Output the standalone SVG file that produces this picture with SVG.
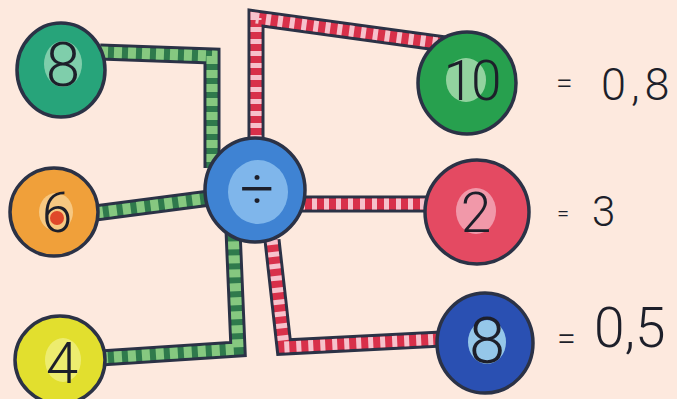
<svg xmlns="http://www.w3.org/2000/svg" width="677" height="399" viewBox="0 0 677 399">
<style>
.out{fill:none;stroke:#2b3246;stroke-width:17;stroke-linejoin:miter;stroke-linecap:butt}
.gb{fill:none;stroke:#2f7a4c;stroke-width:11}
.gd{fill:none;stroke:#86c880;stroke-width:11;stroke-dasharray:8 6}
.rb{fill:none;stroke:#d8304a;stroke-width:11}
.rd{fill:none;stroke:#f6c2cc;stroke-width:11;stroke-dasharray:5 7}
.rim{stroke:#2b3246;stroke-width:3.5}
.hl{opacity:0.85}
.num{font-family:Roboto,"Liberation Sans",sans-serif;font-weight:300;fill:#1d1f2a;text-anchor:middle}
.res{font-family:Roboto,"Liberation Sans",sans-serif;font-weight:300;fill:#1d1f2a}
</style>
<rect width="677" height="399" fill="#fde9de"/>
<g id="connectors">
  <path class="out" d="M100,52 L212,56 L212,168"/>
  <path class="gb" d="M100,52 L212,56 L212,168"/>
  <path class="gd" d="M100,52 L212,56 L212,168"/>
  <path class="out" d="M95,213 L210,198"/>
  <path class="gb" d="M95,213 L210,198"/>
  <path class="gd" d="M95,213 L210,198"/>
  <path class="out" d="M100,358 L238,349 L233,230"/>
  <path class="gb" d="M100,358 L238,349 L233,230"/>
  <path class="gd" d="M100,358 L238,349 L233,230"/>
  <path class="out" d="M256,140 L256,18 L445,44"/>
  <path class="rb" d="M256,140 L256,18 L445,44"/>
  <path class="rd" d="M256,140 L256,18 L445,44"/>
  <path class="out" d="M300,204 L432,204"/>
  <path class="rb" d="M300,204 L432,204"/>
  <path class="rd" d="M300,204 L432,204"/>
  <path class="out" d="M272,240 L284,347 L442,339"/>
  <path class="rb" d="M272,240 L284,347 L442,339"/>
  <path class="rd" d="M272,240 L284,347 L442,339"/>
</g>
<g id="n-8-green">
  <ellipse class="rim" cx="61" cy="70" rx="44" ry="47" fill="#27a47a"/>
  <ellipse class="hl" cx="63" cy="64" rx="19" ry="23" fill="#8fd6b4"/>
  <text class="num" x="63" y="86" font-size="62">8</text>
</g>
<g id="n-6">
  <ellipse class="rim" cx="54" cy="212" rx="44" ry="44" fill="#f0a03a"/>
  <ellipse class="hl" cx="56" cy="212" rx="17" ry="19" fill="#f8cf8e"/>
  <circle cx="57" cy="218" r="7" fill="#e0482a"/>
  <text class="num" x="57" y="232" font-size="55">6</text>
</g>
<g id="n-4">
  <ellipse class="rim" cx="60" cy="360" rx="45" ry="44" fill="#e2df2e"/>
  <ellipse class="hl" cx="63" cy="360" rx="18" ry="22" fill="#eeee7a"/>
  <text class="num" x="62" y="383" font-size="58">4</text>
</g>
<g id="n-div">
  <ellipse class="rim" cx="255" cy="190" rx="50" ry="52" fill="#3f83d3"/>
  <ellipse class="hl" cx="258" cy="192" rx="30" ry="32" fill="#8bbfee"/>
  <text class="num" x="257" y="209" font-size="60">÷</text>
</g>
<g id="n-10">
  <ellipse class="rim" cx="467" cy="83" rx="49" ry="51" fill="#27a04e"/>
  <ellipse class="hl" cx="466" cy="80" rx="20" ry="22" fill="#a6dcae"/>
  <text class="num" x="471" y="100" font-size="55" letter-spacing="-3">10</text>
</g>
<g id="n-2">
  <ellipse class="rim" cx="477" cy="212" rx="52" ry="52" fill="#e44a62"/>
  <ellipse class="hl" cx="476" cy="211" rx="20" ry="23" fill="#f3a6b6"/>
  <text class="num" x="476" y="232" font-size="55">2</text>
</g>
<g id="n-8-blue">
  <ellipse class="rim" cx="485" cy="343" rx="48" ry="50" fill="#2a50b2"/>
  <ellipse class="hl" cx="487" cy="342" rx="19" ry="22" fill="#a8dcf2"/>
  <text class="num" x="487" y="363" font-size="65">8</text>
</g>
<g id="results">
  <text class="res" x="556" y="93" font-size="30">=</text>
  <text class="res" x="601" y="100" font-size="45" letter-spacing="5">0,8</text>
  <text class="res" x="557" y="221" font-size="22">=</text>
  <text class="res" x="592" y="226" font-size="42" font-weight="400">3</text>
  <text class="res" x="557" y="350" font-size="34">=</text>
  <text class="res" x="594" y="347" font-size="55">0,5</text>
</g>
</svg>
